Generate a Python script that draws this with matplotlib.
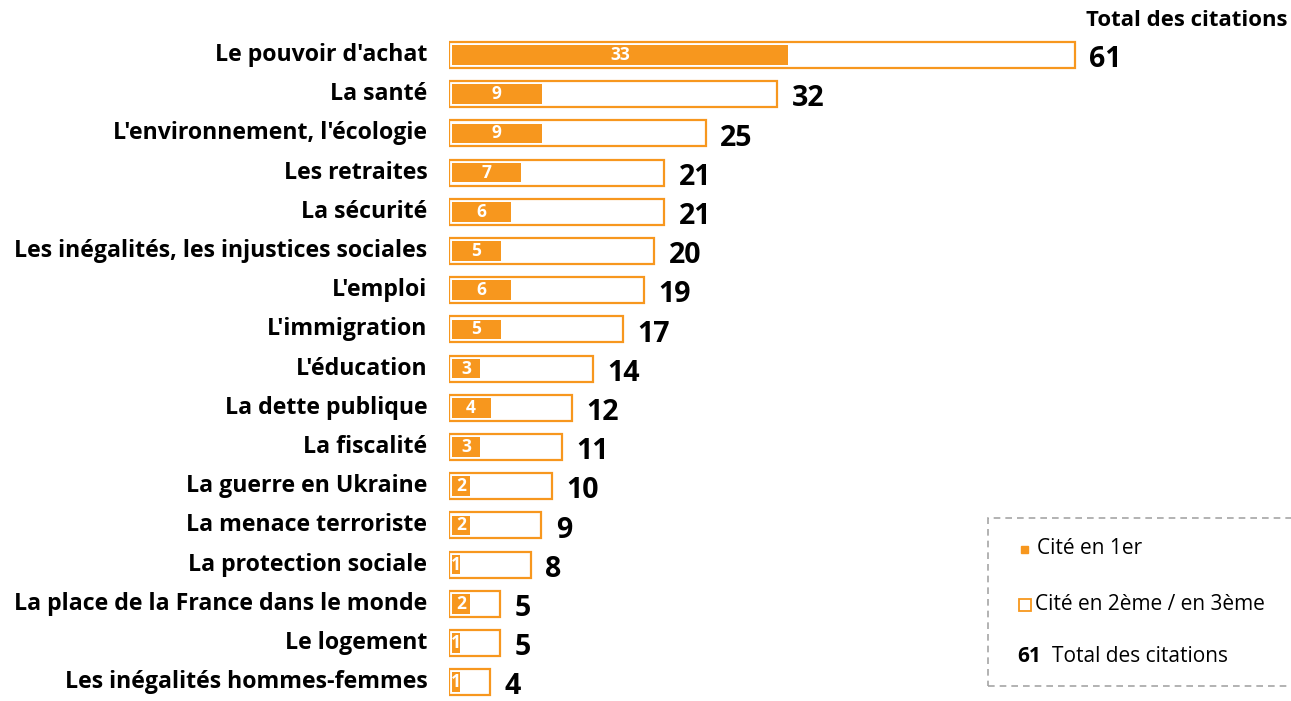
import matplotlib.pyplot as plt
from matplotlib.patches import Rectangle

# Données
categories = ["Le pouvoir d'achat", "La santé", "L'environnement, l'écologie", "Les retraites",
              "La sécurité", "Les inégalités, les injustices sociales", "L'emploi", "L'immigration",
              "L'éducation", "La dette publique", "La fiscalité", "La guerre en Ukraine",
              "La menace terroriste", "La protection sociale", "La place de la France dans le monde",
              "Le logement", "Les inégalités hommes-femmes"]
total = [61, 32, 25, 21, 21, 20, 19, 17, 14, 12, 11, 10, 9, 8, 5, 5, 4]
premier = [33, 9, 9, 7, 6, 5, 6, 5, 3, 4, 3, 2, 2, 1, 2, 1, 1]

orange = "#F7971E"
plt.rcParams['font.family'] = ['Open Sans', 'DejaVu Sans']

W, H = 1291, 701
fig = plt.figure(figsize=(W / 100, H / 100), dpi=100)
ax = fig.add_axes([449 / W, 0, 1 - 449 / W, 1])
px = 10.26  # pixels par unité
step = 39.2
ax.set_xlim(0, (W - 449) / px)
ax.set_ylim((H - 55) / step, -55 / step)
ax.axis("off")

for i, (cat, t, p) in enumerate(zip(categories, total, premier)):
    ax.barh(i, t, height=0.66, color="white", edgecolor=orange, linewidth=1.6)
    ax.barh(i, p - 0.2, left=0.25, height=0.5, color=orange, linewidth=0)
    ax.text(0.25 + (p - 0.2) / 2, i, str(p), color="white", fontweight="bold",
            fontsize=12.5, ha="center", va="center")
    ax.text(t + 1.4, i + 0.12, str(t), fontweight="bold", fontsize=20.5,
            ha="left", va="center", clip_on=False)
    ax.text(-2.1, i, cat, fontweight="bold", fontsize=16.7, ha="right",
            va="center", clip_on=False)

fig.text(1288 / W, 1 - 20 / H, "Total des citations", fontweight="bold",
         fontsize=15.9, ha="right", va="center")

# Légende
fig.patches.append(Rectangle((988 / W, 1 - 686 / H), 0.3, (686 - 518) / H,
                             transform=fig.transFigure, fill=False,
                             edgecolor="#A6A6A6", linestyle=(0, (4, 3)), linewidth=1.2))
fig.patches.append(Rectangle((1021 / W, 1 - 553 / H), 7 / W, 7 / H,
                             transform=fig.transFigure, color=orange))
fig.patches.append(Rectangle((1019 / W, 1 - 611 / H), 12 / W, 12 / H,
                             transform=fig.transFigure, facecolor="white",
                             edgecolor=orange, linewidth=1.3))
fig.text(1037 / W, 1 - 549 / H, "Cité en 1er", fontsize=15, va="center")
fig.text(1035 / W, 1 - 605 / H, "Cité en 2ème / en 3ème", fontsize=15, va="center")
fig.text(1017 / W, 1 - 656 / H, "61", fontsize=15, fontweight="bold", va="center")
fig.text(1052 / W, 1 - 656 / H, "Total des citations", fontsize=15, va="center")

fig.savefig("out.png", dpi=100)
